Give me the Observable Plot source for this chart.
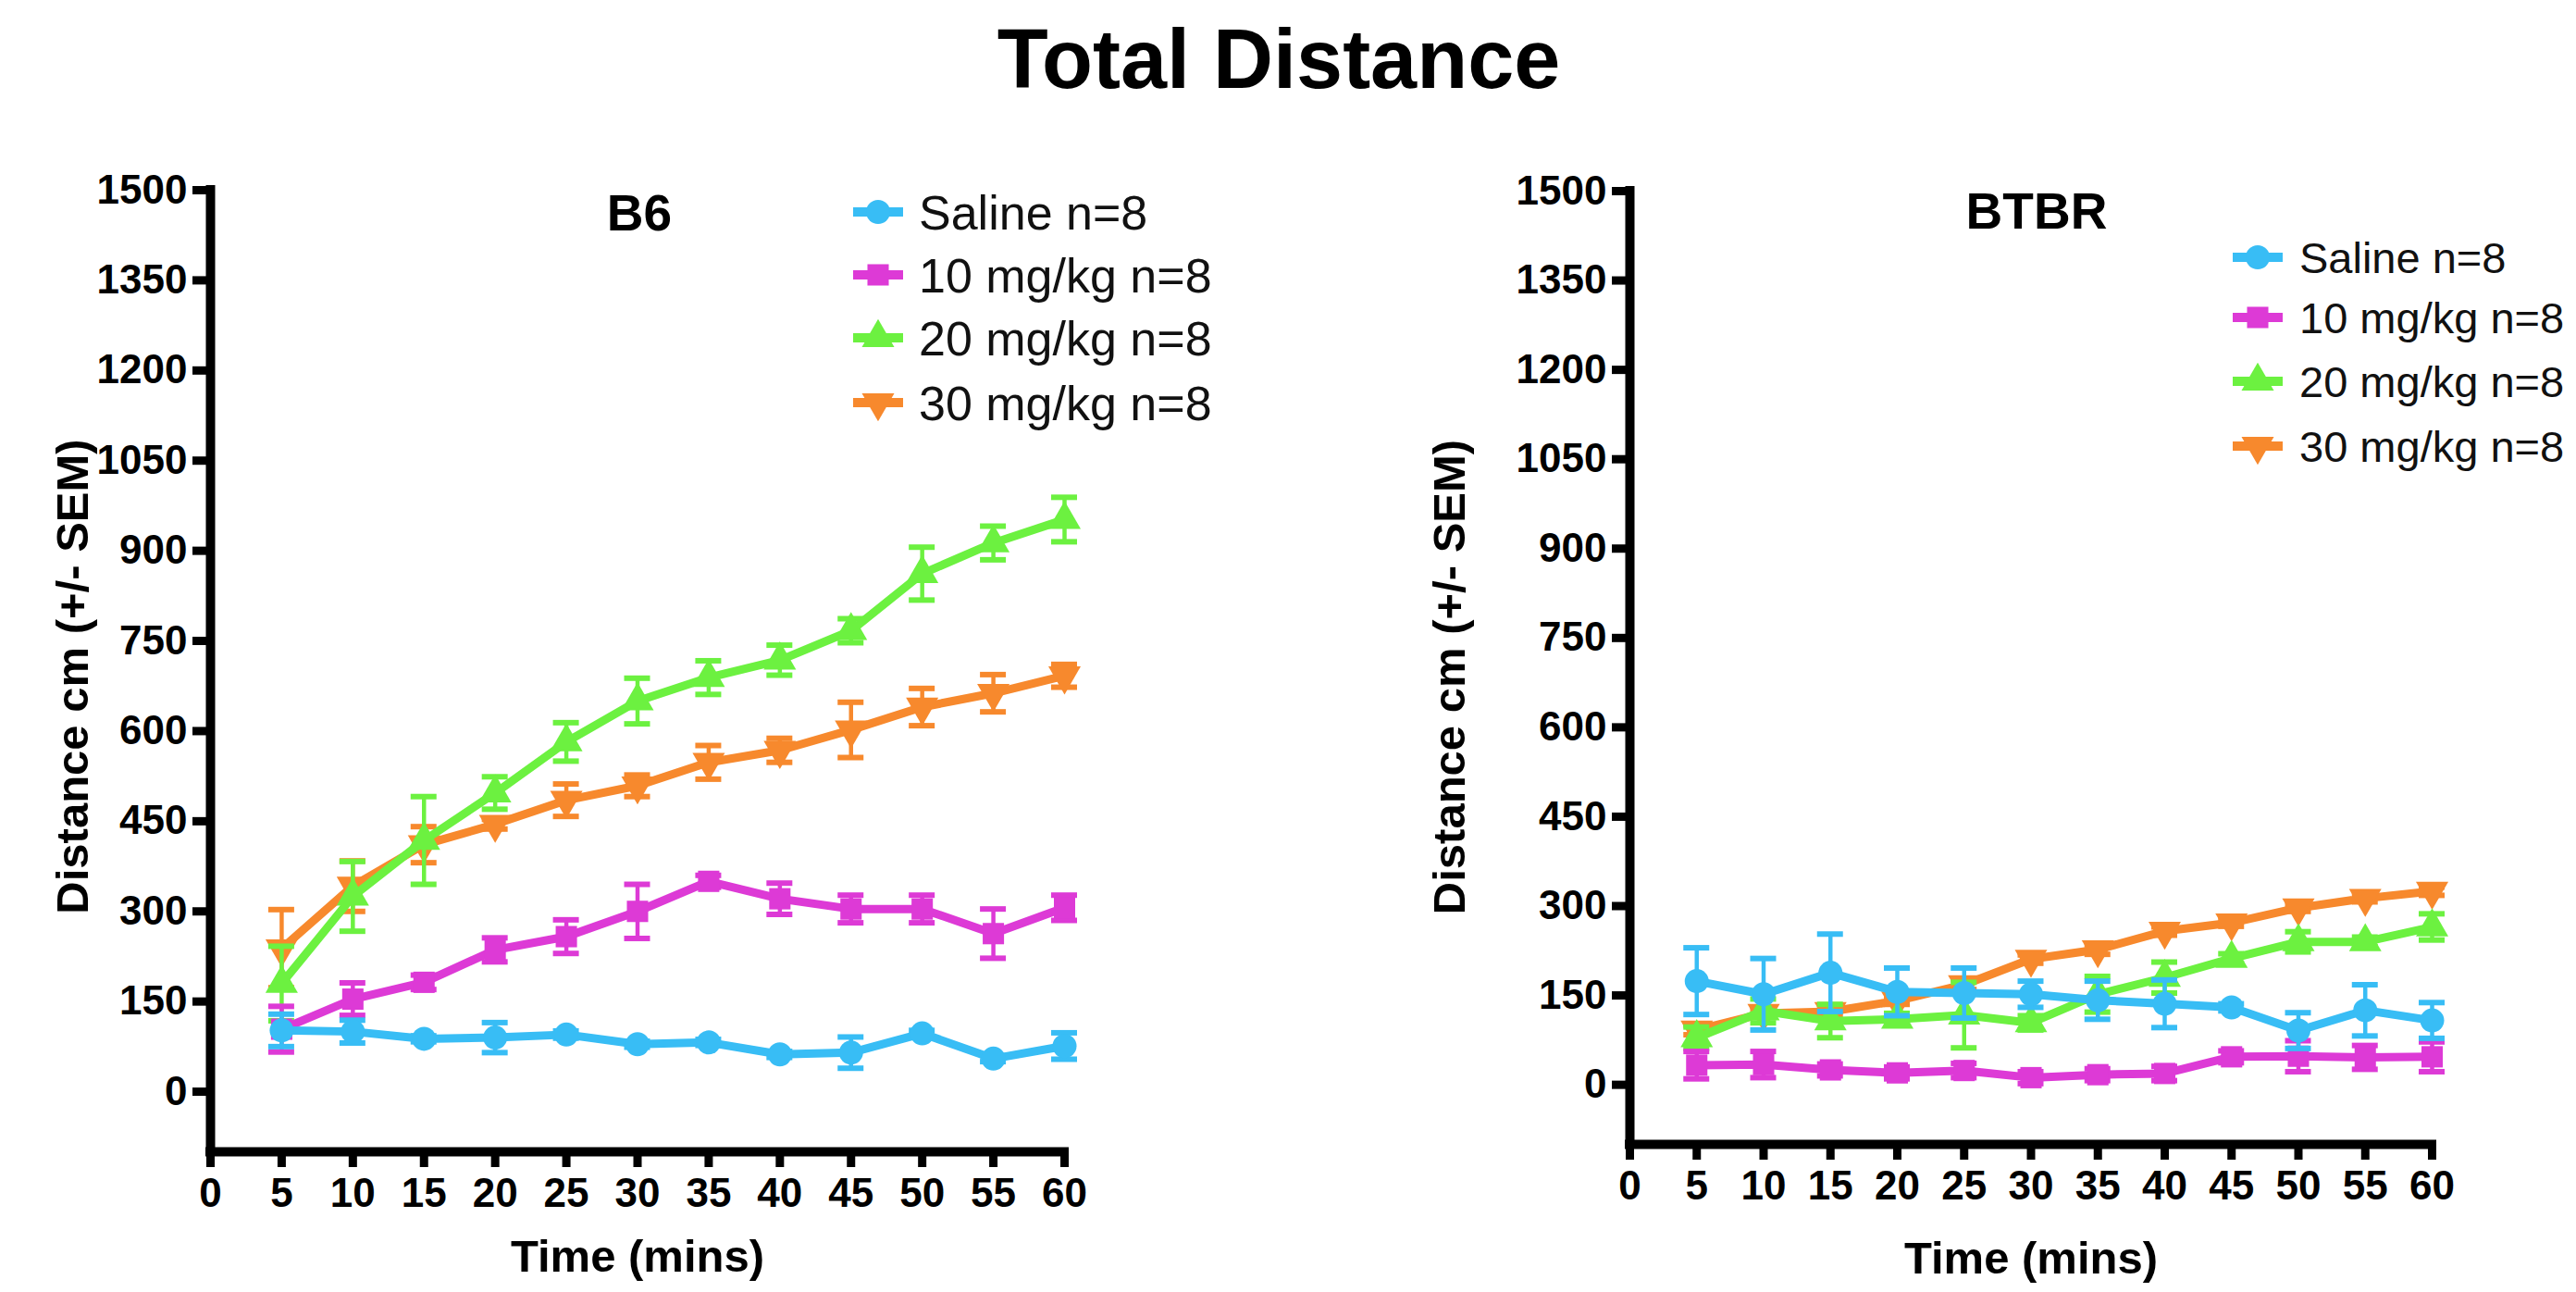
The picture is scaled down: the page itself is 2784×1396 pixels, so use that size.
<!DOCTYPE html>
<html>
<head>
<meta charset="utf-8">
<script src="https://cdn.jsdelivr.net/npm/d3@7"></script>
<script src="https://cdn.jsdelivr.net/npm/@observablehq/plot@0.6"></script>
<style>
  html, body { margin: 0; padding: 0; background: #fff; }
  #root { position: relative; width: 2784px; height: 1396px; background: #fff; overflow: hidden; }
  #root > svg { position: absolute; top: 0; }
</style>
</head>
<body>
<div id="root"></div>
<script>
// ---------------- data ----------------
const chartTitle = "Total Distance";
const xLabel = "Time (mins)";
const yLabel = "Distance cm (+/- SEM)";
const times = [5, 10, 15, 20, 25, 30, 35, 40, 45, 50, 55, 60];
const groups = ["Saline n=8", "10 mg/kg n=8", "20 mg/kg n=8", "30 mg/kg n=8"];
const xTicks = [0, 5, 10, 15, 20, 25, 30, 35, 40, 45, 50, 55, 60];
const yTicks = [0, 150, 300, 450, 600, 750, 900, 1050, 1200, 1350, 1500];
const yDomain = [-100, 1500];
const xDomain = [0, 60];

// B6
const b6Saline    = [102, 100, 88, 90, 95, 79, 82, 62, 65, 97, 55, 76];
const b6SalineSem = [27, 19, 5, 25, 6, 5, 5, 5, 26, 5, 5, 22];
const b6Mg10      = [104, 154, 182, 236, 258, 300, 350, 321, 304, 304, 263, 306];
const b6Mg10Sem   = [38, 27, 12, 20, 28, 45, 10, 26, 23, 23, 41, 21];
const b6Mg20      = [180, 325, 418, 497, 582, 650, 689, 718, 767, 862, 913, 952];
const b6Mg20Sem   = [62, 58, 73, 27, 32, 38, 28, 25, 20, 44, 28, 37];
const b6Mg30      = [238, 342, 411, 445, 485, 509, 548, 568, 602, 640, 663, 692];
const b6Mg30Sem   = [65, 42, 30, 8, 27, 18, 28, 20, 46, 31, 31, 19];

// BTBR
const btbrSaline    = [174, 152, 188, 156, 154, 152, 142, 136, 130, 91, 125, 108];
const btbrSalineSem = [56, 60, 65, 40, 42, 22, 32, 40, 6, 30, 43, 30];
const btbrMg10      = [33, 34, 25, 20, 24, 12, 17, 19, 47, 48, 46, 47];
const btbrMg10Sem   = [23, 22, 10, 10, 12, 10, 10, 12, 10, 26, 20, 25];
const btbrMg20      = [79, 124, 107, 110, 117, 104, 152, 180, 212, 240, 240, 265];
const btbrMg20Sem   = [18, 20, 28, 10, 55, 12, 30, 26, 8, 17, 8, 22];
const btbrMg30      = [92, 120, 123, 141, 168, 211, 227, 258, 272, 297, 313, 325];
const btbrMg30Sem   = [8, 6, 6, 6, 8, 7, 8, 7, 6, 6, 6, 7];

// ---------------- styles ----------------
const FONT = "'Liberation Sans', Arial, Helvetica, sans-serif";
const colors = ["#38bdf5", "#dd3ad6", "#6cf140", "#f7892d"];
const sqrt3 = Math.sqrt(3);
const symbolTriangleDown = {
  draw(context, size) {
    const y = -Math.sqrt(size / (sqrt3 * 3));
    context.moveTo(0, -y * 2);
    context.lineTo(sqrt3 * y, y);
    context.lineTo(-sqrt3 * y, y);
    context.closePath();
  }
};
const symbols = [d3.symbolCircle, d3.symbolSquare, d3.symbolTriangle, symbolTriangleDown];
const drawOrder = [3, 2, 1, 0];

function rowsOf(vals, sems) {
  return times.map((t, i) => ({t, v: vals[i], e: sems[i]}));
}

function panel(seriesVals, seriesSems, L) {
  const W = 1392, H = 1396;
  const capUnits = 14 * (xDomain[1] - xDomain[0]) / (W - L.ml - L.mr);
  const marks = [];
  for (const k of drawOrder) {
    const data = rowsOf(seriesVals[k], seriesSems[k]);
    const c = colors[k];
    marks.push(Plot.ruleX(data, {x: "t", y1: d => d.v - d.e, y2: d => d.v + d.e, stroke: c, strokeWidth: 4.5}));
    marks.push(Plot.ruleY(data, {y: d => d.v + d.e, x1: d => d.t - capUnits, x2: d => d.t + capUnits, stroke: c, strokeWidth: 6}));
    marks.push(Plot.ruleY(data, {y: d => d.v - d.e, x1: d => d.t - capUnits, x2: d => d.t + capUnits, stroke: c, strokeWidth: 6}));
    marks.push(Plot.line(data, {x: "t", y: "v", stroke: c, strokeWidth: 9, strokeLinejoin: "round"}));
    marks.push(Plot.dot(data, {x: "t", y: "v", symbol: symbols[k], r: 13, fill: c, stroke: "none"}));
  }
  marks.push(Plot.ruleY([yDomain[0]], {strokeWidth: 10, strokeLinecap: "square"}));
  marks.push(Plot.ruleX([xDomain[0]], {strokeWidth: 10, strokeLinecap: "square"}));
  marks.push(Plot.axisX({ticks: xTicks, tickSize: 17, tickPadding: 11, strokeWidth: 9,
    fontSize: 44, fontWeight: "bold", tickFormat: d => String(d), label: null}));
  marks.push(Plot.axisY({ticks: yTicks, tickSize: 19, tickPadding: 6, strokeWidth: 9,
    fontSize: 44, fontWeight: "bold", tickFormat: d => String(d), label: null}));
  marks.push(Plot.text([yLabel], {text: d => d, frameAnchor: "left", textAnchor: "middle", lineAnchor: "middle",
    rotate: -90, dx: L.ylDx, dy: L.ylDy, fontSize: 49, fontWeight: "bold"}));
  marks.push(Plot.text([xLabel], {text: d => d, frameAnchor: "bottom", textAnchor: "middle", lineAnchor: "middle",
    dy: L.xlDy, fontSize: 49, fontWeight: "bold"}));
  const svg = Plot.plot({
    width: W, height: H,
    marginLeft: L.ml, marginRight: L.mr, marginTop: L.mt, marginBottom: L.mb,
    x: {domain: xDomain},
    y: {domain: yDomain},
    style: {fontFamily: FONT, background: "transparent", color: "#000", overflow: "visible"},
    marks
  });
  svg.style.left = L.left + "px";
  return svg;
}

const root = document.getElementById("root");
root.appendChild(panel(
  [b6Saline, b6Mg10, b6Mg20, b6Mg30],
  [b6SalineSem, b6Mg10Sem, b6Mg20Sem, b6Mg30Sem],
  {left: 0, ml: 227, mr: 242, mt: 205, mb: 152, ylDx: -148, ylDy: 6, xlDy: 114}
));
root.appendChild(panel(
  [btbrSaline, btbrMg10, btbrMg20, btbrMg30],
  [btbrSalineSem, btbrMg10Sem, btbrMg20Sem, btbrMg30Sem],
  {left: 1392, ml: 369, mr: 156, mt: 206, mb: 160, ylDx: -194, ylDy: 10, xlDy: 124}
));

// ---------------- titles & legends overlay ----------------
const overlay = d3.select(root).append("svg")
  .attr("width", 2784).attr("height", 1396)
  .style("left", "0px").style("pointer-events", "none")
  .attr("font-family", FONT);

overlay.append("text").attr("x", 1382).attr("y", 95).attr("text-anchor", "middle")
  .attr("font-size", 90).attr("font-weight", "bold").text(chartTitle);
overlay.append("text").attr("x", 691).attr("y", 249).attr("text-anchor", "middle")
  .attr("font-size", 55).attr("font-weight", "bold").text("B6");
overlay.append("text").attr("x", 2201).attr("y", 247).attr("text-anchor", "middle")
  .attr("font-size", 55).attr("font-weight", "bold").text("BTBR");

function legend(cx, tx, rowsY, fs) {
  const g = overlay.append("g");
  groups.forEach((name, i) => {
    const y = rowsY[i];
    g.append("line").attr("x1", cx - 27).attr("x2", cx + 27).attr("y1", y).attr("y2", y)
      .attr("stroke", colors[i]).attr("stroke-width", 10);
    g.append("path").attr("d", d3.symbol(symbols[i], Math.PI * 13 * 13)())
      .attr("transform", `translate(${cx},${y})`).attr("fill", colors[i]);
    g.append("text").attr("x", tx).attr("y", y + fs * 0.36).attr("font-size", fs)
      .attr("fill", "#111").text(name);
  });
}
legend(949, 993, [229, 297, 365, 435], 52);
legend(2440, 2485, [278, 343, 412, 482], 47);
</script>
</body>
</html>
